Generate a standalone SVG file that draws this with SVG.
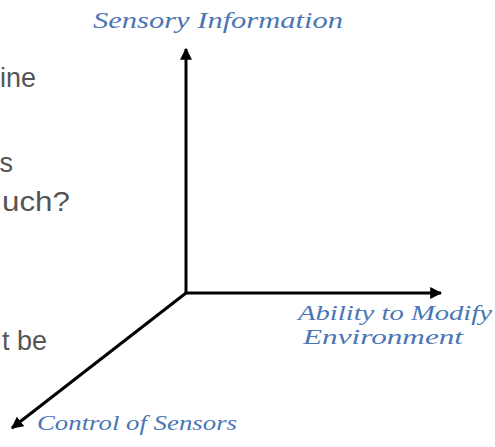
<svg xmlns="http://www.w3.org/2000/svg" width="495" height="447" viewBox="0 0 495 447">
<defs>
<style>
.ax{stroke:#000;stroke-width:3;fill:none}
.lbl{font-family:"Liberation Serif","DejaVu Serif",serif;font-style:italic;fill:#4a76b4}
.body{font-family:"Liberation Sans",Arial,sans-serif;font-size:27px;fill:#555;text-anchor:end}
</style>
<marker id="ah" viewBox="0 0 10 10" refX="9" refY="5" markerWidth="4" markerHeight="4" markerUnits="strokeWidth" orient="auto">
<path d="M0,0 L10,5 L0,10 z" fill="#000"/>
</marker>
</defs>
<rect width="495" height="447" fill="#fff"/>
<g id="bodytext">
<text class="body" x="36" y="87">ine</text>
<text class="body" x="13" y="172">s</text>
<text class="body" x="70" y="211" textLength="68" lengthAdjust="spacingAndGlyphs">uch?</text>
<text class="body" x="47" y="350">t be</text>
</g>
<g id="connectors">
<line class="ax" x1="186" y1="293" x2="186" y2="49" marker-end="url(#ah)"/>
<line class="ax" x1="185" y1="293" x2="441" y2="293" marker-end="url(#ah)"/>
<line class="ax" x1="186" y1="293" x2="12" y2="428" marker-end="url(#ah)"/>
</g>
<g id="sensory">
<text class="lbl" x="93" y="28" font-size="24" textLength="250" lengthAdjust="spacingAndGlyphs">Sensory Information</text>
</g>
<g id="ability">
<text class="lbl" x="298" y="320" font-size="21" textLength="194" lengthAdjust="spacingAndGlyphs">Ability to Modify</text>
<text class="lbl" x="303" y="344" font-size="21" textLength="160" lengthAdjust="spacingAndGlyphs">Environment</text>
</g>
<g id="control">
<text class="lbl" x="37" y="430" font-size="22" textLength="200" lengthAdjust="spacingAndGlyphs">Control of Sensors</text>
</g>
</svg>
